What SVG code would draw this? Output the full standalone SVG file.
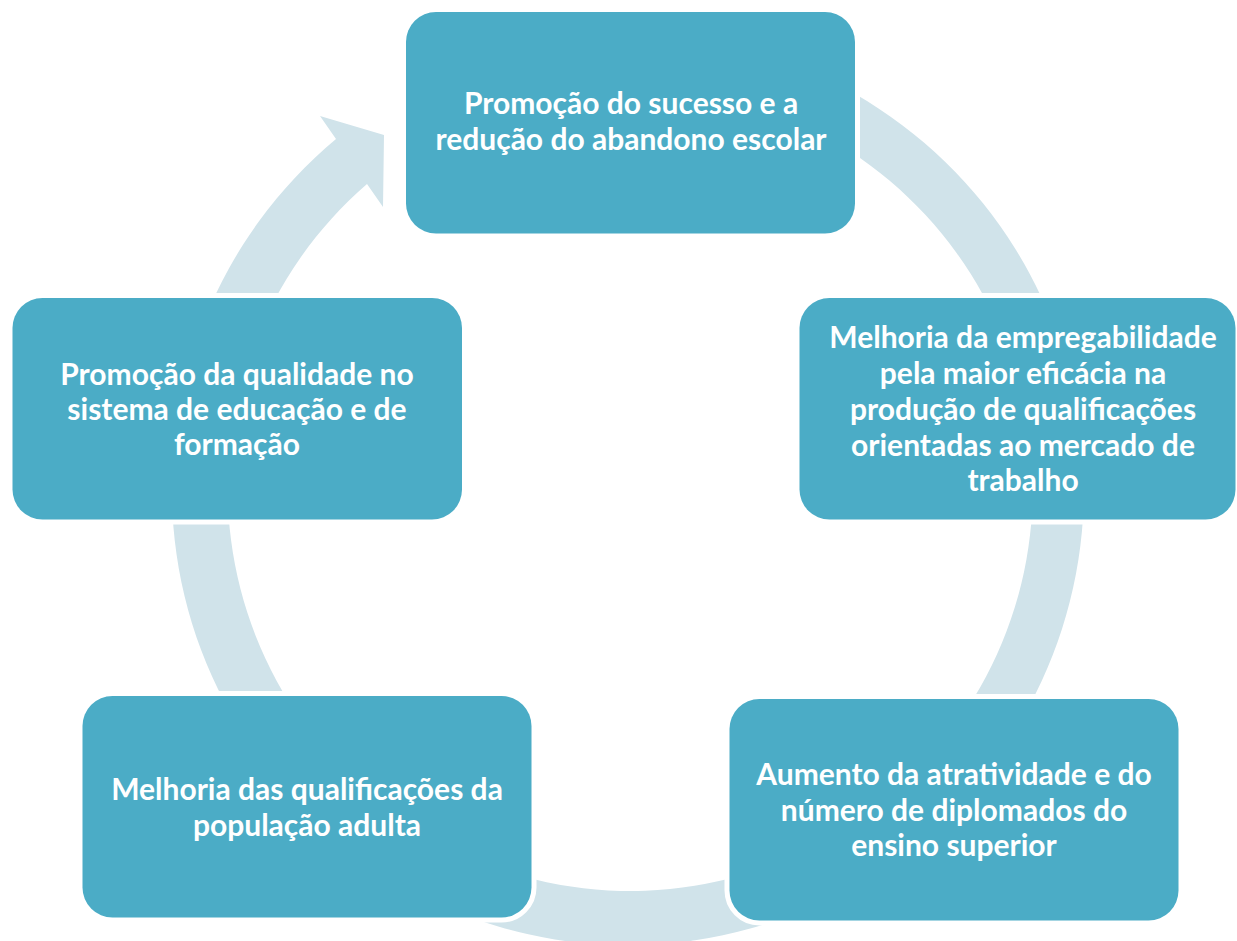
<svg xmlns="http://www.w3.org/2000/svg" width="1237" height="941" viewBox="0 0 1237 941">
<style>
.box{fill:#4BACC6;stroke:#FFFFFF;stroke-width:10;paint-order:stroke fill}
.lbl{fill:#FFFFFF;font-family:Lato,"Liberation Sans",sans-serif;font-weight:bold;font-size:30px;text-anchor:middle}
.ring{fill:#D0E3EA}
</style>
<rect width="1237" height="941" fill="#FFFFFF"/>
<g id="connectors">
<path class="ring" d="M 474.54 59.9 A 456 456 0 1 1 336 139 L 320 116 L 384 135 L 383 207 L 367 184 A 402.5 402.5 0 1 0 492.84 110.17 Z"/>
</g>
<g id="node-top">
<rect class="box" x="406" y="12" width="449" height="221.5" rx="30"/>
<text class="lbl" x="631" y="114">Promoção do sucesso e a</text>
<text class="lbl" x="631" y="150">redução do abandono escolar</text>
</g>
<g id="node-right">
<rect class="box" x="799.5" y="298" width="436" height="221.5" rx="30"/>
<text class="lbl" x="1023" y="348">Melhoria da empregabilidade</text>
<text class="lbl" x="1023" y="384">pela maior eficácia na</text>
<text class="lbl" x="1023" y="420">produção de qualificações</text>
<text class="lbl" x="1023" y="456">orientadas ao mercado de</text>
<text class="lbl" x="1023" y="491">trabalho</text>
</g>
<g id="node-bottom-right">
<rect class="box" x="729.5" y="699" width="449" height="221.5" rx="30"/>
<text class="lbl" x="954" y="785">Aumento da atratividade e do</text>
<text class="lbl" x="954" y="821">número de diplomados do</text>
<text class="lbl" x="954" y="856">ensino superior</text>
</g>
<g id="node-bottom-left">
<rect class="box" x="82.5" y="696" width="449" height="221.5" rx="30"/>
<text class="lbl" x="307" y="800">Melhoria das qualificações da</text>
<text class="lbl" x="307" y="836">população adulta</text>
</g>
<g id="node-left">
<rect class="box" x="12.5" y="298" width="449.5" height="221.5" rx="30"/>
<text class="lbl" x="237" y="385">Promoção da qualidade no</text>
<text class="lbl" x="237" y="420">sistema de educação e de</text>
<text class="lbl" x="237" y="455">formação</text>
</g>
</svg>
